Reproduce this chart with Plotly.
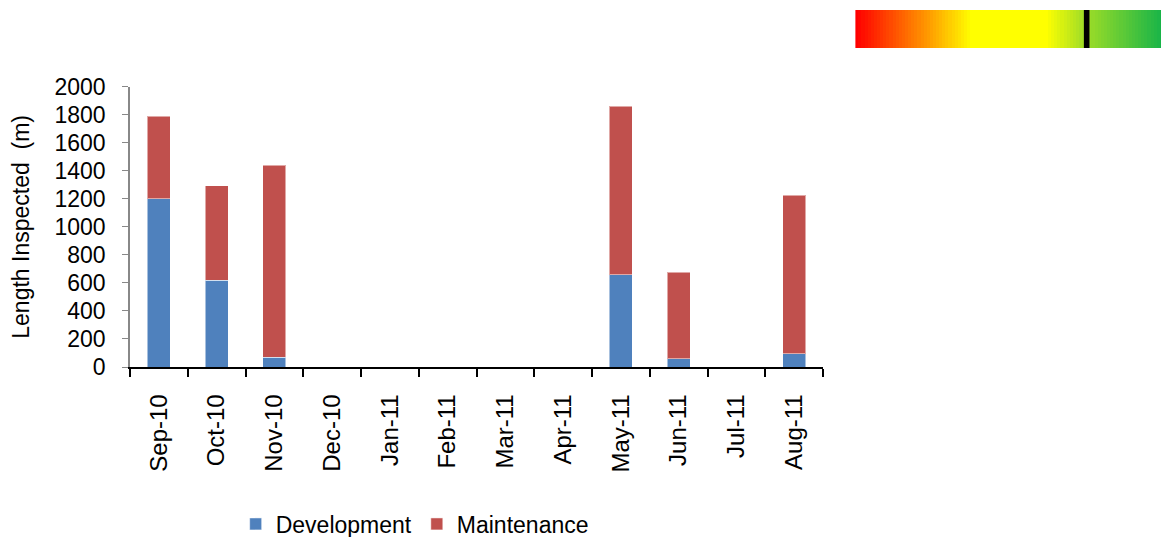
import plotly.graph_objects as go

months = ['Sep-10', 'Oct-10', 'Nov-10', 'Dec-10', 'Jan-11', 'Feb-11',
          'Mar-11', 'Apr-11', 'May-11', 'Jun-11', 'Jul-11', 'Aug-11']
development = [1200, 620, 70, 0, 0, 0, 0, 0, 660, 60, 0, 95]
maintenance = [590, 675, 1370, 0, 0, 0, 0, 0, 1200, 615, 0, 1130]

# gauge strip at the top right
gauge_stops = [[0.0, '#ff0000'], [0.24, '#ffa200'], [0.37, '#ffff00'],
               [0.61, '#ffff00'], [0.72, '#a8e024'], [1.0, '#0db14b']]
gauge_steps = list(range(101))
gauge_value = 74

font = dict(family='Liberation Sans, Arial, sans-serif', size=23, color='black')
xfont = dict(family='Liberation Sans, Arial, sans-serif', size=24, color='black')

fig = go.Figure()
fig.add_trace(go.Bar(x=months, y=development, name='Development',
                     marker=dict(color='#4f81bd',
                                 line=dict(color='rgba(255,255,255,0.5)', width=1))))
fig.add_trace(go.Bar(x=months, y=maintenance, name='Maintenance',
                     marker=dict(color='#c0504d',
                                 line=dict(color='rgba(255,255,255,0.5)', width=1))))
fig.add_trace(go.Heatmap(z=[gauge_steps], x=gauge_steps, colorscale=gauge_stops,
                         showscale=False, hoverinfo='skip',
                         xaxis='x2', yaxis='y2', showlegend=False))

fig.add_shape(type='rect', xref='x2', yref='y2',
              x0=gauge_value - 0.9, x1=gauge_value + 0.9, y0=-0.5, y1=0.5,
              fillcolor='black', line=dict(width=0))

# page body adds 8px on the left/top
fig.update_layout(
    width=1161, height=529,
    margin=dict(l=122, r=0, t=2, b=170),
    paper_bgcolor='white', plot_bgcolor='white',
    font=font,
    barmode='stack', bargap=0.6,
    xaxis=dict(domain=[0, 0.667], type='category', tickson='boundaries',
               ticks='outside', ticklen=8, tickcolor='black', tickwidth=1.5,
               showline=True, linecolor='black', linewidth=1.5,
               tickangle=-90, showgrid=False, tickfont=xfont,
               ticklabelstandoff=16, automargin=False),
    yaxis=dict(domain=[0, 0.785], range=[0, 2000], dtick=200,
               ticks='outside', ticklen=6, tickcolor='#888888',
               showline=True, linecolor='#888888', linewidth=1.5,
               showgrid=False, zeroline=False, tickfont=font,
               ticklabelstandoff=12, automargin=False,
               title=dict(text='Length Inspected  (m)', font=font, standoff=22)),
    xaxis2=dict(domain=[0.698, 1], anchor='y2', visible=False,
                range=[-0.5, 100.5]),
    yaxis2=dict(domain=[0.8936, 1], anchor='x2', visible=False,
                range=[-0.5, 0.5]),
    legend=dict(orientation='h', x=0.274, xanchor='center',
                yref='container', y=0.0246, yanchor='middle',
                font=font, traceorder='normal'),
)

fig.write_html('out.html')
